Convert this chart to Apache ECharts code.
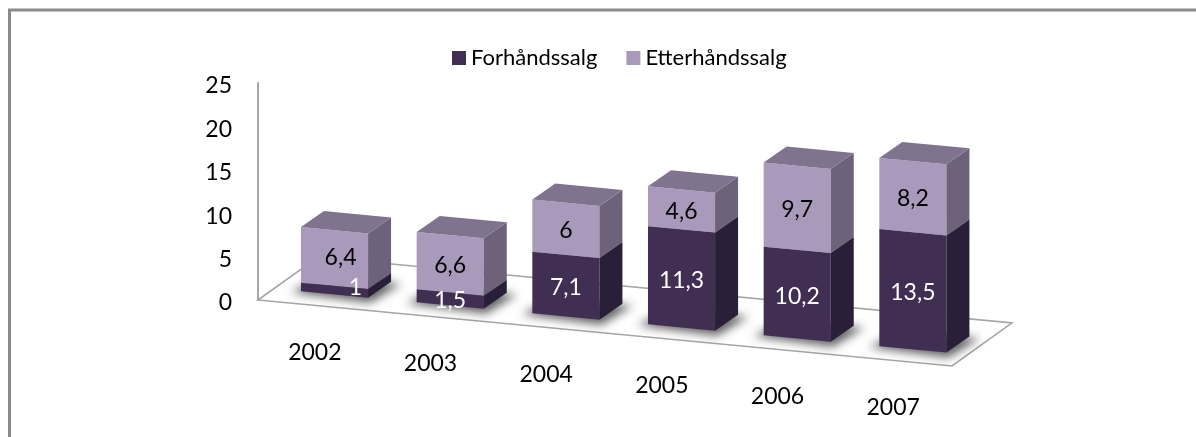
<!DOCTYPE html>
<html>
<head>
<meta charset="utf-8">
<style>html,body{margin:0;padding:0;background:#fff}#c{width:1196px;height:437px}</style>
<script src="https://cdn.jsdelivr.net/npm/echarts@6/dist/echarts.min.js"></script>
</head>
<body>
<div id="c"></div>
<script>
const years = ['2002','2003','2004','2005','2006','2007'];
const forhand = [1, 1.5, 7.1, 11.3, 10.2, 13.5];
const etterhand = [6.4, 6.6, 6, 4.6, 9.7, 8.2];
const yTicks = {min:0, max:25, interval:5};

const FONT = 'Lato';
const SLOPE = 0.095;              // floor skew in px per px along the category axis
const FLOOR_DEPTH = [60,-43];
const FRONT = [18.7,-11];         // offset of bar fronts from the floor's front edge
const DEPTH = [23,-16];
const COL = {
  darkFront:'#402f53', darkSide:'#2a1f38',
  lightFront:'#a99abc', lightSide:'#6d6279', lightTop:'#7f7390', floor:'#a6a6a6'
};
const LABEL_NUDGE = {'0-0':[21,-5], '0-1':[6,-2]};
const OFF = 3000;

function skew(p, cs){ return [p[0], p[1] + SLOPE*(p[0]-cs.x)]; }
function add(p, v){ return [p[0]+v[0], p[1]+v[1]]; }

function barItem(front, side, top, textFill, sIdx){
  return function(params, api){
    const i = api.value(0), v = api.value(1), base = api.value(2);
    const cs = params.coordSys;
    const w = api.size([1,0])[0]*0.58;
    const cx = api.coord([i,0])[0];
    const yb = api.coord([i,base])[1], yt = api.coord([i,base+v])[1];
    const at = (x,y)=>add(skew([x,y],cs),FRONT);
    const bl = at(cx-w/2,yb), br = at(cx+w/2,yb), tl = at(cx-w/2,yt), tr = at(cx+w/2,yt);
    const children = [
      {type:'polygon',shape:{points:[bl,br,tr,tl]},style:{fill:front}},
      {type:'polygon',shape:{points:[br,add(br,DEPTH),add(tr,DEPTH),tr]},style:{fill:side}}
    ];
    if (top) children.push({type:'polygon',shape:{points:[tl,tr,add(tr,DEPTH),add(tl,DEPTH)]},style:{fill:top}});
    const n = LABEL_NUDGE[i+'-'+sIdx] || [0,0];
    const c = at(cx,(yb+yt)/2);
    children.push({type:'text',z2:10,style:{
      x:c[0]+n[0], y:c[1]+n[1]+2, text:String(v).replace('.',','),
      fill:textFill, font:'23px '+FONT, align:'center', verticalAlign:'middle'}});
    return {type:'group',children};
  };
}

function shadowItem(params, api){
  const i = api.value(0), cs = params.coordSys;
  const w = api.size([1,0])[0]*0.58;
  const cx = api.coord([i,0])[0], y0 = api.coord([i,0])[1];
  const at = (x,y)=>add(skew([x,y],cs),FRONT);
  const bl = at(cx-w/2,y0), br = at(cx+w/2,y0);
  const pts = [add(bl,[-10,1]), add(br,[2,5]), add(add(br,DEPTH),[10,2]), add(add(bl,DEPTH),[0,0])]
    .map(p=>[p[0]-OFF,p[1]]);
  return {type:'polygon',shape:{points:pts},style:{
    fill:'#000',shadowBlur:10,shadowOffsetX:OFF,shadowColor:'rgba(70,70,70,0.85)'}};
}

function floorItem(params){
  const cs = params.coordSys, y = cs.y+cs.height;
  const fl = skew([cs.x,y],cs), fr = skew([cs.x+cs.width,y],cs);
  return {type:'polygon',shape:{points:[fl,fr,add(fr,FLOOR_DEPTH),add(fl,FLOOR_DEPTH)]},
    style:{fill:'#fff',stroke:COL.floor,lineWidth:1.6}};
}

function yearItem(params, api){
  const i = api.value(0), cs = params.coordSys;
  const p = skew(api.coord([i,0]),cs);
  return {type:'text',style:{x:p[0]-1,y:p[1]+47.5,text:years[i],fill:'#000',
    font:'23px '+FONT,align:'center',verticalAlign:'middle'}};
}

const chart = echarts.init(document.getElementById('c'),null,{renderer:'canvas'});
chart.setOption({
  animation:false,
  backgroundColor:'#fff',
  graphic:[{type:'polyline',silent:true,shape:{points:[[9.5,437],[9.5,10],[1196,10]]},
    style:{stroke:'#8a8a8a',lineWidth:3,fill:null}}],
  legend:{
    data:['Forhåndssalg','Etterhåndssalg'],left:447,top:42,icon:'rect',itemWidth:14,itemHeight:14,
    itemGap:29,textStyle:{fontFamily:FONT,fontSize:22,color:'#000'},selectedMode:false
  },
  grid:{left:258,top:83,width:694,height:217},
  xAxis:{type:'category',data:years,axisLine:{show:false},axisTick:{show:false},axisLabel:{show:false},splitLine:{show:false}},
  yAxis:{type:'value',min:yTicks.min,max:yTicks.max,interval:yTicks.interval,
    axisLine:{show:true,lineStyle:{color:COL.floor,width:2}},axisTick:{show:false},splitLine:{show:false},
    axisLabel:{margin:26,color:'#000',fontFamily:FONT,fontSize:23,formatter:'{a|{value}}',
      rich:{a:{fontFamily:FONT,fontSize:23,color:'#000',padding:[6,0,0,0]}}}},
  series:[
    {type:'custom',name:'floor',z:1,silent:true,data:[[0,0]],encode:{x:0,y:1},renderItem:floorItem},
    {type:'custom',name:'years',z:1,silent:true,data:years.map((_,i)=>[i,0]),encode:{x:0,y:1},renderItem:yearItem},
    {type:'custom',name:'shadow',z:2,silent:true,data:years.map((_,i)=>[i,0]),encode:{x:0,y:1},renderItem:shadowItem},
    {type:'custom',name:'Etterhåndssalg',z:3,itemStyle:{color:COL.lightFront},
      data:etterhand.map((v,i)=>[i,v,forhand[i]]),encode:{x:0,y:1},
      renderItem:barItem(COL.lightFront,COL.lightSide,COL.lightTop,'#000',1)},
    {type:'custom',name:'Forhåndssalg',z:4,itemStyle:{color:COL.darkFront},
      data:forhand.map((v,i)=>[i,v,0]),encode:{x:0,y:1},
      renderItem:barItem(COL.darkFront,COL.darkSide,null,'#fff',0)}
  ]
});
</script>
</body>
</html>
